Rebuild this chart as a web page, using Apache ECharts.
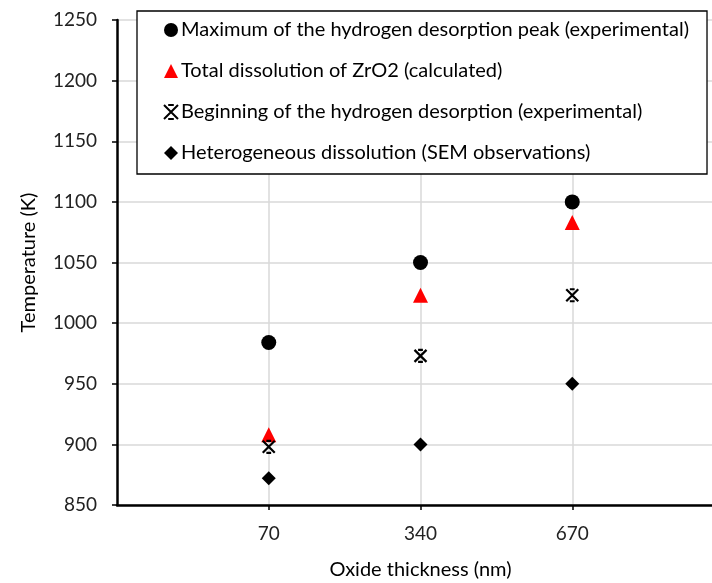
<!DOCTYPE html>
<html>
<head>
<meta charset="utf-8">
<script src="https://cdn.jsdelivr.net/npm/echarts@6/dist/echarts.min.js"></script>
<style>
  html, body { margin: 0; padding: 0; background: #fff; }
  #chart { width: 712px; height: 583px; }
</style>
</head>
<body>
<div id="chart"></div>
<script>
// blank first and last slots give the padding on each side, like the original
const categories = ['', '70', '340', '670', '']
const peakMax = [null, 984, 1050, 1100, null]
const totalDissolution = [null, 908, 1023, 1083, null]
const desorptionStart = [null, 898, 973, 1023, null]
const heteroDissolution = [null, 872, 900, 950, null]

const names = [
    'Maximum of the hydrogen desorption peak (experimental)',
    'Total dissolution of ZrO2 (calculated)',
    'Beginning of the hydrogen desorption (experimental)',
    'Heterogeneous dissolution (SEM observations)'
]

// excel-like star marker: an X with short caps
const starPath = 'path://M0,0L10,10M10,0L0,10M3,0L7,0M3,10L7,10'
const font = 'Lato'

const myChart = echarts.init(document.getElementById('chart'))

const option = {
    backgroundColor: '#fff',
    textStyle: { fontFamily: font },
    grid: {
        left: 117,
        top: 20,
        width: 607,
        height: 485,
        outerBoundsMode: 'none'
    },
    legend: {
        orient: 'vertical',
        left: 137,
        top: 11,
        itemGap: 21,
        itemWidth: 14,
        itemHeight: 14,
        padding: [9, 18, 11, 26],
        borderColor: '#000',
        borderWidth: 1.3,
        backgroundColor: '#fff',
        textStyle: { fontSize: 20, color: '#000', fontFamily: font, padding: [0, 0, 0, -2] },
        data: names
    },
    xAxis: {
        type: 'category',
        data: categories,
        boundaryGap: false,
        name: 'Oxide thickness (nm)',
        nameLocation: 'middle',
        nameGap: 55,
        nameTextStyle: { fontSize: 20, color: '#000' },
        axisLine: { lineStyle: { color: '#000', width: 2.5 } },
        axisTick: {
            show: true,
            length: 5,
            lineStyle: { color: '#000', width: 1.5 },
            interval: (i, v) => v !== ''
        },
        axisLabel: { fontSize: 19, color: '#222', margin: 19, interval: 0 },
        splitLine: {
            show: true,
            interval: (i, v) => v !== '',
            lineStyle: { color: '#d9d9d9', width: 1.5 }
        }
    },
    yAxis: {
        type: 'value',
        min: 850,
        max: 1250,
        interval: 50,
        name: 'Temperature (K)',
        nameLocation: 'middle',
        nameGap: 78,
        nameRotate: 90,
        nameTextStyle: { fontSize: 20, color: '#000' },
        axisLine: { show: true, lineStyle: { color: '#000', width: 2.5 } },
        axisTick: { show: true, length: 5, lineStyle: { color: '#000', width: 1.5 } },
        axisLabel: { fontSize: 19, color: '#222', margin: 20, formatter: v => String(v) },
        splitLine: { lineStyle: { color: '#d9d9d9', width: 1.5 } }
    },
    series: [
        {
            name: names[0],
            type: 'scatter',
            symbol: 'circle',
            symbolSize: 15,
            itemStyle: { color: '#000', opacity: 1 },
            data: peakMax
        },
        {
            name: names[1],
            type: 'scatter',
            symbol: 'triangle',
            symbolSize: 15,
            itemStyle: { color: '#ff0000', opacity: 1 },
            data: totalDissolution
        },
        {
            name: names[2],
            type: 'scatter',
            symbol: starPath,
            symbolSize: 12,
            itemStyle: { color: 'rgba(0,0,0,0)', borderColor: '#000', borderWidth: 2.2, opacity: 1 },
            data: desorptionStart
        },
        {
            name: names[3],
            type: 'scatter',
            symbol: 'diamond',
            symbolSize: 14,
            itemStyle: { color: '#000', opacity: 1 },
            data: heteroDissolution
        }
    ]
}

myChart.setOption(option)
</script>
</body>
</html>
